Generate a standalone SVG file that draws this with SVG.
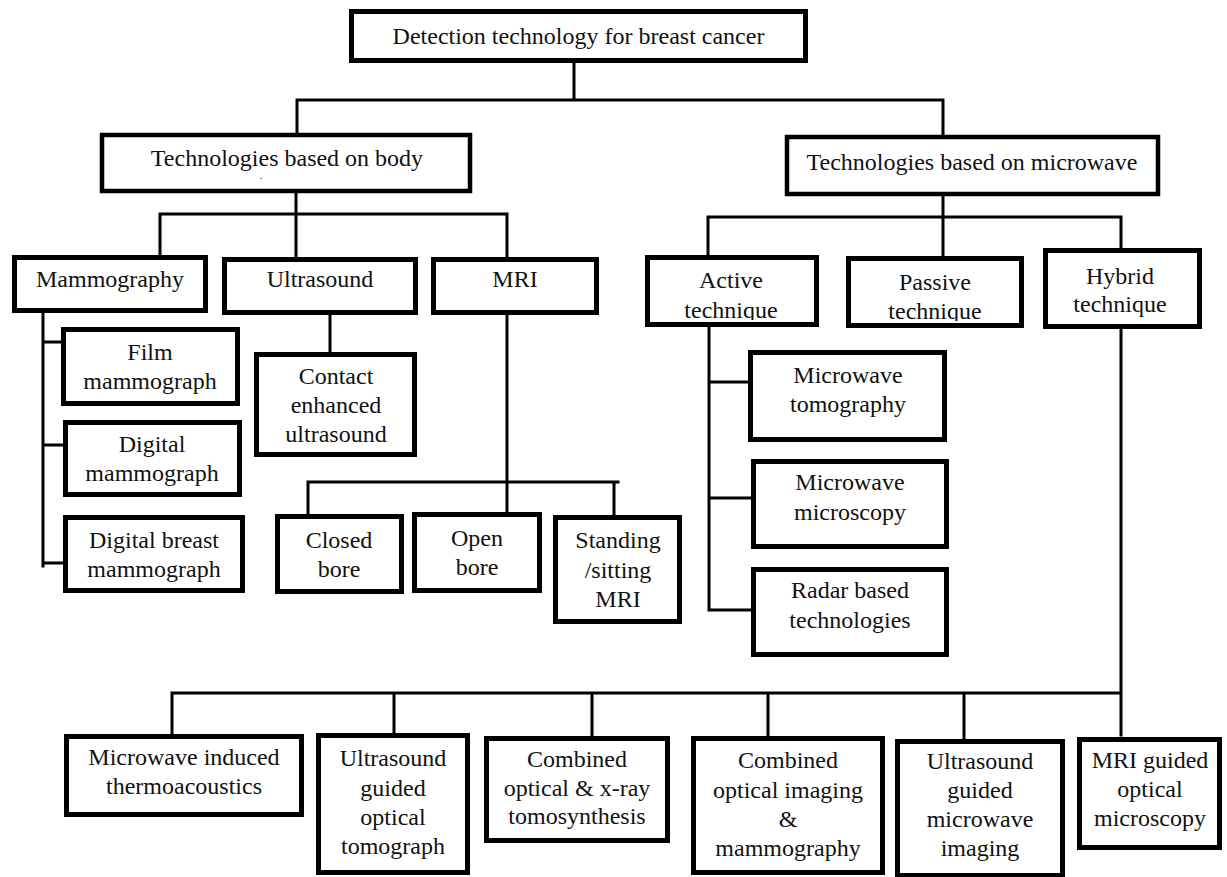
<svg xmlns="http://www.w3.org/2000/svg" width="1227" height="877" viewBox="0 0 1227 877">
  <style>
    .box { fill: #ffffff; stroke: #000000; stroke-width: 5; }
    .lbl { font-family: "Times New Roman", "Liberation Serif", "DejaVu Serif", serif; font-size: 24px; fill: #111111; text-anchor: middle; }
    .wire { fill: none; stroke: #000000; stroke-width: 3; stroke-linecap: square; }
  </style>
  <defs>
    <clipPath id="clipActive"><rect x="645" y="255" width="175" height="65"/></clipPath>
    <clipPath id="clipPassive"><rect x="846" y="256" width="180" height="65"/></clipPath>
  </defs>
  <rect width="1227" height="877" fill="#ffffff"/>

  <!-- connectors -->
  <g id="connectors">
    <!-- root to the two families -->
    <path class="wire" d="M574 62 V100 M297 100 H943 M297 100 V133 M943 100 V136"/>
    <!-- body-based branch -->
    <path class="wire" d="M296 193 V214 M160 214 H507 M160 214 V255 M296 214 V257 M507 214 V258"/>
    <!-- mammography children -->
    <path class="wire" d="M43 313 V566 M43 342 H61 M43 445 H63 M43 563 H63"/>
    <!-- ultrasound child -->
    <path class="wire" d="M330 315 V352"/>
    <!-- MRI children -->
    <path class="wire" d="M507 315 V512 M308 482 H618 M308 482 V514 M614 482 V515"/>
    <!-- microwave-based branch -->
    <path class="wire" d="M943 196 V217 M708 217 H1121 M708 217 V255 M943 217 V256 M1121 217 V249"/>
    <!-- active technique children -->
    <path class="wire" d="M709 327 V610 M709 382 H748 M709 498 H751 M709 610 H751"/>
    <!-- hybrid technique children -->
    <path class="wire" d="M1121 328 V735 M172 693 H1121 M172 693 V734 M394 693 V733 M592 693 V736 M768 693 V736 M964 693 V739"/>
  </g>

  <!-- level 0 -->
  <g id="root">
    <rect class="box" x="351.5" y="11.5" width="454" height="49"/>
    <text class="lbl" x="578.5" y="44">Detection technology for breast cancer</text>
  </g>

  <!-- level 1 -->
  <g id="body-based">
    <rect class="box" x="102" y="135" width="368" height="56" style="stroke-width:4.5"/>
    <text class="lbl" x="287" y="166">Technologies based on body</text>
    <text class="lbl" x="261" y="179" style="font-size:11px">.</text>
  </g>
  <g id="microwave-based">
    <rect class="box" x="787" y="137" width="371" height="57" style="stroke-width:4.5"/>
    <text class="lbl" x="972" y="170">Technologies based on microwave</text>
  </g>

  <!-- body-based modalities -->
  <g id="mammography">
    <rect class="box" x="14.5" y="257.5" width="191" height="53"/>
    <text class="lbl" x="110" y="287">Mammography</text>
  </g>
  <g id="ultrasound">
    <rect class="box" x="224.5" y="259.5" width="191" height="53"/>
    <text class="lbl" x="320" y="287">Ultrasound</text>
  </g>
  <g id="mri">
    <rect class="box" x="433.5" y="259.5" width="163" height="53"/>
    <text class="lbl" x="515" y="287">MRI</text>
  </g>

  <g id="film-mammograph">
    <rect class="box" x="63.5" y="329.5" width="174" height="74"/>
    <text class="lbl" x="150" y="360">Film</text>
    <text class="lbl" x="150" y="389">mammograph</text>
  </g>
  <g id="digital-mammograph">
    <rect class="box" x="65.5" y="422.5" width="174" height="72"/>
    <text class="lbl" x="152" y="452">Digital</text>
    <text class="lbl" x="152" y="481">mammograph</text>
  </g>
  <g id="digital-breast-mammograph">
    <rect class="box" x="65.5" y="517.5" width="177" height="73"/>
    <text class="lbl" x="154" y="548">Digital breast</text>
    <text class="lbl" x="154" y="577">mammograph</text>
  </g>

  <g id="contact-enhanced-ultrasound">
    <rect class="box" x="256.5" y="354.5" width="158" height="100"/>
    <text class="lbl" x="336" y="384">Contact</text>
    <text class="lbl" x="336" y="413">enhanced</text>
    <text class="lbl" x="336" y="442">ultrasound</text>
  </g>

  <g id="closed-bore">
    <rect class="box" x="277.5" y="516.5" width="124" height="75"/>
    <text class="lbl" x="339" y="548">Closed</text>
    <text class="lbl" x="339" y="577">bore</text>
  </g>
  <g id="open-bore">
    <rect class="box" x="414.5" y="514.5" width="125" height="76"/>
    <text class="lbl" x="477" y="546">Open</text>
    <text class="lbl" x="477" y="575">bore</text>
  </g>
  <g id="standing-sitting-mri">
    <rect class="box" x="555.5" y="517.5" width="124" height="104"/>
    <text class="lbl" x="618" y="548">Standing</text>
    <text class="lbl" x="618" y="578">/sitting</text>
    <text class="lbl" x="618" y="607">MRI</text>
  </g>

  <!-- microwave techniques -->
  <g id="active-technique">
    <rect class="box" x="647.5" y="257.5" width="169" height="67"/>
    <text class="lbl" x="731" y="288">Active</text>
    <text class="lbl" x="731" y="318" clip-path="url(#clipActive)">technique</text>
  </g>
  <g id="passive-technique">
    <rect class="box" x="848.5" y="258.5" width="173" height="67"/>
    <text class="lbl" x="935" y="290">Passive</text>
    <text class="lbl" x="935" y="319" clip-path="url(#clipPassive)">technique</text>
  </g>
  <g id="hybrid-technique">
    <rect class="box" x="1045.5" y="250.5" width="154" height="76"/>
    <text class="lbl" x="1120" y="284">Hybrid</text>
    <text class="lbl" x="1120" y="312">technique</text>
  </g>

  <g id="microwave-tomography">
    <rect class="box" x="750.5" y="352.5" width="194" height="87"/>
    <text class="lbl" x="848" y="383">Microwave</text>
    <text class="lbl" x="848" y="412">tomography</text>
  </g>
  <g id="microwave-microscopy">
    <rect class="box" x="753.5" y="461.5" width="193" height="85"/>
    <text class="lbl" x="850" y="490">Microwave</text>
    <text class="lbl" x="850" y="520">microscopy</text>
  </g>
  <g id="radar-based">
    <rect class="box" x="753.5" y="569.5" width="193" height="85"/>
    <text class="lbl" x="850" y="598">Radar based</text>
    <text class="lbl" x="850" y="628">technologies</text>
  </g>

  <!-- hybrid methods -->
  <g id="thermoacoustics">
    <rect class="box" x="66.5" y="736.5" width="235" height="78"/>
    <text class="lbl" x="184" y="765">Microwave induced</text>
    <text class="lbl" x="184" y="794">thermoacoustics</text>
  </g>
  <g id="us-guided-optical">
    <rect class="box" x="318.5" y="735.5" width="149" height="137"/>
    <text class="lbl" x="393" y="766">Ultrasound</text>
    <text class="lbl" x="393" y="796">guided</text>
    <text class="lbl" x="393" y="825">optical</text>
    <text class="lbl" x="393" y="854">tomograph</text>
  </g>
  <g id="optical-xray">
    <rect class="box" x="486.5" y="738.5" width="181" height="102"/>
    <text class="lbl" x="577" y="767">Combined</text>
    <text class="lbl" x="577" y="796">optical &amp; x-ray</text>
    <text class="lbl" x="577" y="824">tomosynthesis</text>
  </g>
  <g id="optical-mammography">
    <rect class="box" x="693.5" y="738.5" width="189" height="134"/>
    <text class="lbl" x="788" y="768">Combined</text>
    <text class="lbl" x="788" y="798">optical imaging</text>
    <text class="lbl" x="788" y="827">&amp;</text>
    <text class="lbl" x="788" y="856">mammography</text>
  </g>
  <g id="us-guided-microwave">
    <rect class="box" x="897.5" y="741.5" width="165" height="134"/>
    <text class="lbl" x="980" y="769">Ultrasound</text>
    <text class="lbl" x="980" y="798">guided</text>
    <text class="lbl" x="980" y="827">microwave</text>
    <text class="lbl" x="980" y="856">imaging</text>
  </g>
  <g id="mri-guided-optical">
    <rect class="box" x="1079.5" y="739.5" width="140" height="108"/>
    <text class="lbl" x="1150" y="768">MRI guided</text>
    <text class="lbl" x="1150" y="797">optical</text>
    <text class="lbl" x="1150" y="826">microscopy</text>
  </g>
</svg>
